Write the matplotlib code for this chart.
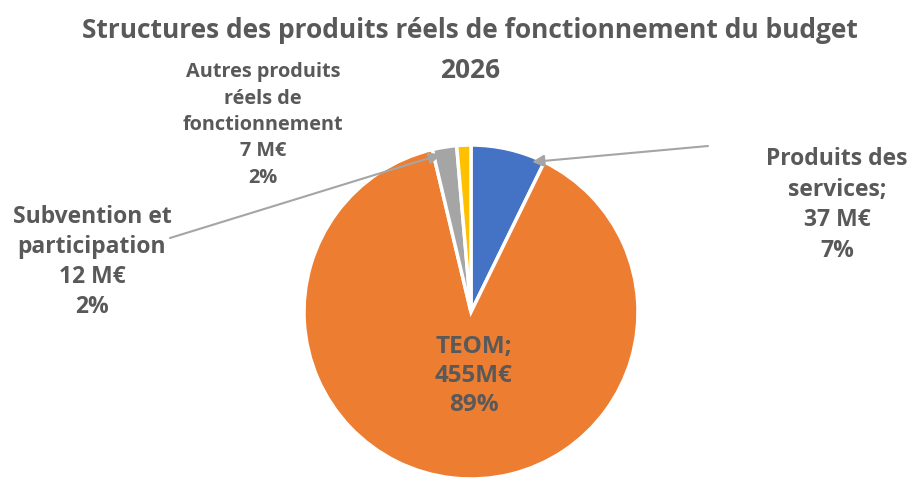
import matplotlib.pyplot as plt
import numpy as np

plt.rcParams['font.family'] = ['Open Sans', 'DejaVu Sans']

labels = ["Produits des\nservices;", "TEOM;", "Subvention et\nparticipation", "Autres produits\nréels de\nfonctionnement"]
values = [37, 455, 12, 7]
amounts = ["37 M€", "455M€", "12 M€", "7 M€"]
pcts = ["7%", "89%", "2%", "2%"]
colors = ["#4472C4", "#ED7D31", "#A5A5A5", "#FFC000"]

txt_col = "#595959"
W, H = 911, 479

fig = plt.figure(figsize=(W / 100, H / 100), dpi=100)

# pie axes: centre ~ (471, 312) px, radius ~167 px
cx, cy, r = 471, 312, 167
ax = fig.add_axes([(cx - r) / W, (H - cy - r) / H, 2 * r / W, 2 * r / H])
wedges, _ = ax.pie(values, colors=colors, startangle=90, counterclock=False,
                   wedgeprops=dict(edgecolor="white", linewidth=2.5))
ax.set_xlim(-1, 1)
ax.set_ylim(-1, 1)
ax.set_aspect("equal")
ax.axis("off")

fig.text(470 / W, 1 - 30 / H, "Structures des produits réels de fonctionnement du budget",
         ha="center", va="center", fontsize=19, fontweight="bold", color=txt_col)
fig.text(470 / W, 1 - 70 / H, "2026",
         ha="center", va="center", fontsize=19, fontweight="bold", color=txt_col)

def label(i, x, y, size=16.5, ls=1.38):
    fig.text(x / W, 1 - y / H, f"{labels[i]}\n{amounts[i]}\n{pcts[i]}",
             ha="center", va="center", fontsize=size, fontweight="bold",
             color=txt_col, linespacing=ls, multialignment="center")

label(1, 474, 376, size=17.5, ls=1.3)
label(0, 837, 205)
label(2, 92, 262, ls=1.33)
label(3, 263, 125, size=14.3, ls=1.42)

def arrow(i, tx, ty, frac=0.4, rad=0.98):
    w = wedges[i]
    a = np.deg2rad(w.theta1 + frac * (w.theta2 - w.theta1))
    ax.annotate("", xy=(rad * np.cos(a), rad * np.sin(a)),
                xytext=(tx, H - ty), textcoords="figure pixels",
                arrowprops=dict(arrowstyle="-|>", color="#A5A5A5", lw=1.5,
                                mutation_scale=18, shrinkA=0, shrinkB=0))

arrow(0, 708, 146, frac=0.15, rad=0.97)
arrow(2, 170, 238, frac=0.7, rad=0.96)

fig.savefig("out.png", dpi=100)
